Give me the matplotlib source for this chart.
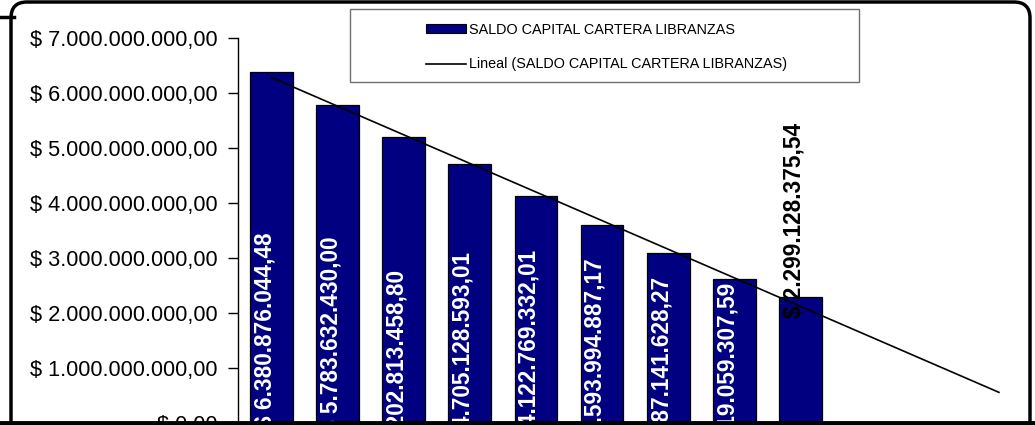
import matplotlib
matplotlib.use("Agg")
import matplotlib.pyplot as plt
import numpy as np
from matplotlib.patches import FancyBboxPatch, Rectangle, Patch
from matplotlib.lines import Line2D
from matplotlib.transforms import IdentityTransform
from matplotlib.ticker import FuncFormatter, MultipleLocator

plt.rcParams['font.family'] = ['Liberation Sans', 'DejaVu Sans']

# ---- data ----
series_name = "SALDO CAPITAL CARTERA LIBRANZAS"
trend_name = "Lineal (SALDO CAPITAL CARTERA LIBRANZAS)"
saldo = [6380876044.48, 5783632430.00, 5202813458.80, 4705128593.01,
         4122769332.01, 3593994887.17, 3087141628.27, 2619059307.59,
         2299128375.54]
n_forecast = 3  # trendline projected forward periods
# where the end of each (white) rotated label sits, in axis value units
label_end = [3.46e9, 3.40e9, 2.78e9, 3.11e9, 3.15e9, 3.00e9, 2.66e9, 2.55e9]

def money(v):
    s = f"{v:,.2f}"
    s = s.replace(",", "X").replace(".", ",").replace("X", ".")
    return "$ " + s

W, H = 1035, 425
fig = plt.figure(figsize=(W / 100, H / 100), dpi=100)
fig.patch.set_facecolor("white")

# background frame fragments
fig.add_artist(Line2D([0, W], [2.5, 2.5], transform=IdentityTransform(),
                      color="black", lw=3.5, zorder=5))
fig.add_artist(Line2D([0, 14], [408, 408], transform=IdentityTransform(),
                      color="black", lw=2.5, zorder=1))
frame = FancyBboxPatch((11, -40), 1019, 463, boxstyle="round,pad=0,rounding_size=16",
                       transform=IdentityTransform(), facecolor="white",
                       edgecolor="black", lw=2.5, zorder=0.5)
fig.add_artist(frame)

ax = fig.add_axes([238.3 / W, 1.6 / H, (1032 - 238.3) / W, (387.3 - 1.6) / H])
ax.set_facecolor("none")
ax.set_zorder(2)

x = np.arange(len(saldo))
ax.bar(x, saldo, width=0.645, color="#000080", edgecolor="black", lw=0.9, zorder=2)

# linear trendline
coef = np.polyfit(x, saldo, 1)
xt = np.arange(len(saldo) + n_forecast)
ax.plot(xt, np.polyval(coef, xt), color="black", lw=1.2, zorder=3)

ax.set_xlim(-0.5, len(saldo) + n_forecast - 0.5)
ax.set_ylim(0, 7e9)
ax.yaxis.set_major_locator(MultipleLocator(1e9))
ax.yaxis.set_major_formatter(FuncFormatter(lambda v, p: money(v)))
ax.tick_params(axis="y", labelsize=15.7, length=7, width=1, pad=8, color="black")
ax.set_xticks([])
for s in ["top", "right", "bottom"]:
    ax.spines[s].set_visible(False)
ax.spines["left"].set_linewidth(1)

# data labels
for i, v in enumerate(saldo):
    if i < len(label_end):
        ax.text(i - 0.1, label_end[i], money(v), rotation=90, ha="center", va="top",
                color="white", fontsize=16.3, fontweight="bold", zorder=4, clip_on=True)
    else:
        ax.text(i - 0.1, v - 0.39e9, money(v), rotation=90, ha="center", va="bottom",
                color="black", fontsize=16.3, fontweight="bold", zorder=4)

# legend box
fig.add_artist(Rectangle((350, H - 82), 509, 73, transform=IdentityTransform(),
                         facecolor="white", edgecolor="#707070", lw=1, zorder=3))
handles = [Patch(facecolor="#000080", edgecolor="black", lw=0.8),
           Line2D([], [], color="black", lw=1.2)]
leg = fig.legend(handles, [series_name, trend_name], loc="upper left",
                 bbox_to_anchor=(414 / W, 1 - 11 / H), frameon=False,
                 fontsize=10.35, handlelength=2.85, handleheight=0.55,
                 handletextpad=0.2, labelspacing=1.45, borderpad=0.3)
leg.set_zorder(4)

fig.savefig("out.png", dpi=100)
